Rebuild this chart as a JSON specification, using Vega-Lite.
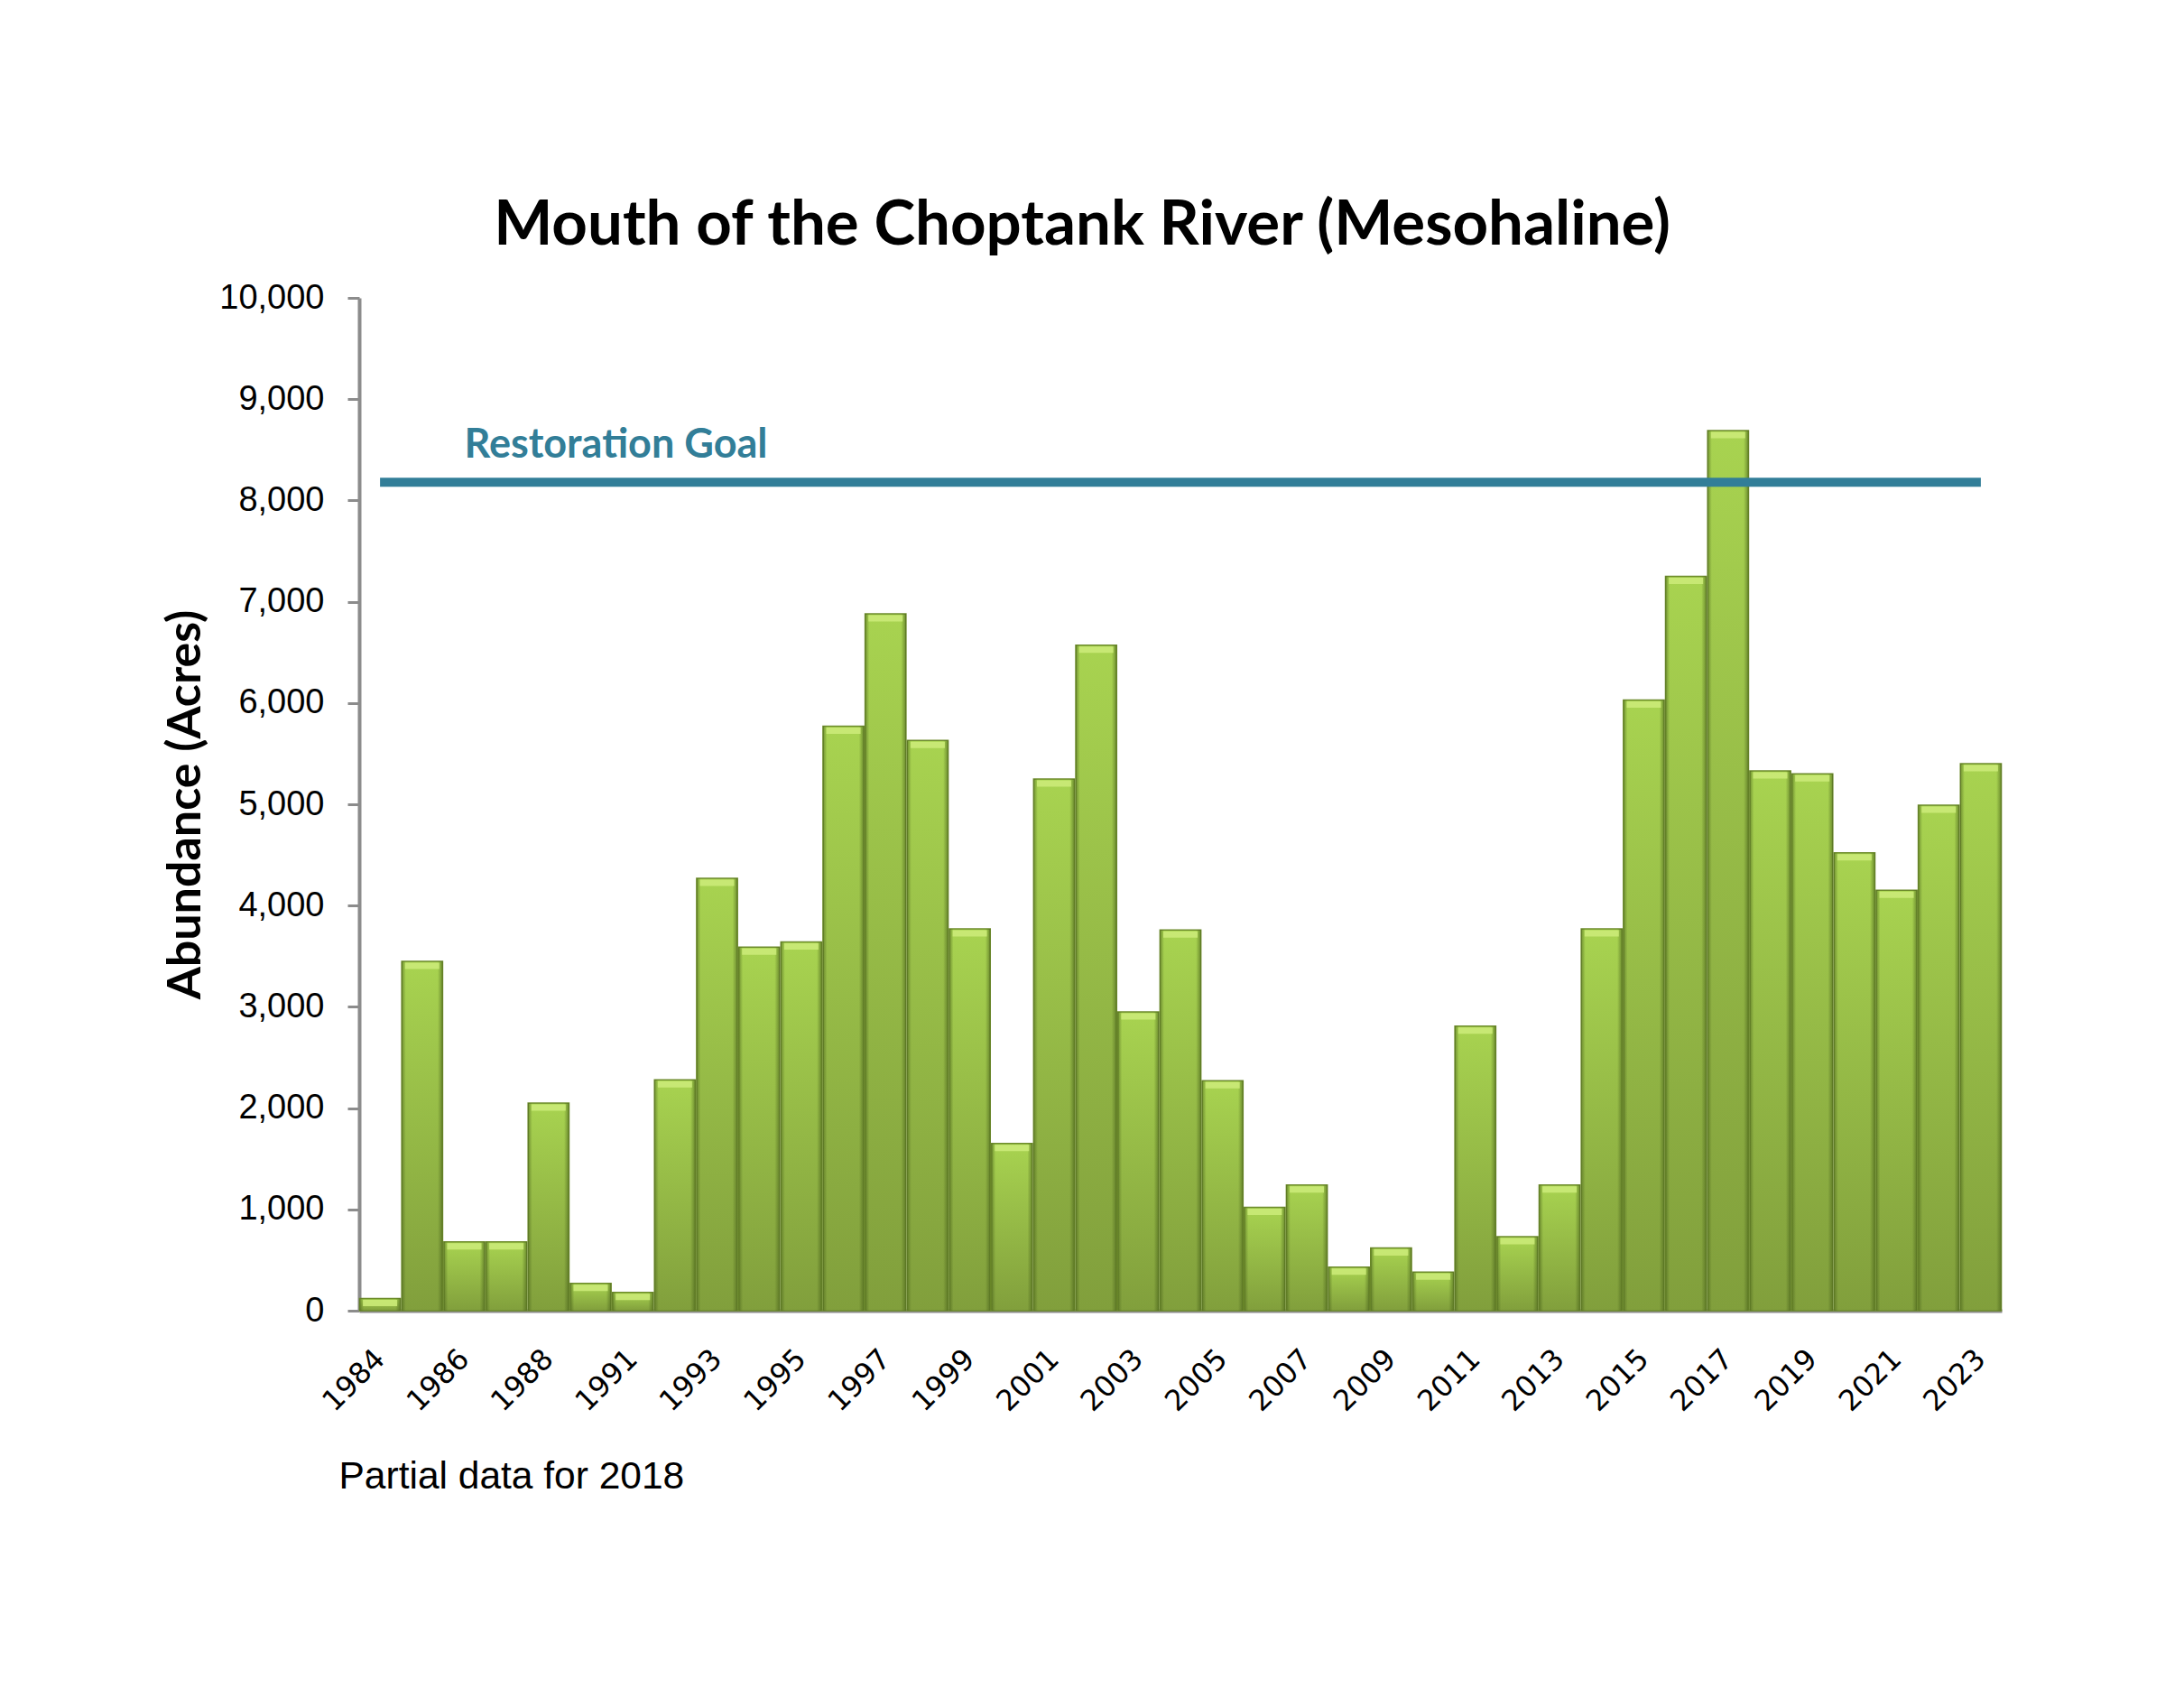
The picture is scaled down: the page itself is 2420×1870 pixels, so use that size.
{
  "$schema": "https://vega.github.io/schema/vega-lite/v6.json",
  "width": 1820,
  "height": 1122,
  "autosize": {"type": "none"},
  "padding": {"left": 398, "top": 330, "right": 202, "bottom": 418},
  "background": "white",
  "config": {"view": {"stroke": null}},
  "title": {
    "text": "Mouth of the Choptank River (Mesohaline)",
    "font": "Lato",
    "fontSize": 69,
    "fontWeight": "bold",
    "color": "black",
    "anchor": "middle",
    "frame": "bounds",
    "offset": 26
  },
  "data": {
    "values": [
      {"year": 1984, "acres": 120},
      {"year": 1985, "acres": 3450},
      {"year": 1986, "acres": 680},
      {"year": 1987, "acres": 680},
      {"year": 1988, "acres": 2050},
      {"year": 1989, "acres": 270},
      {"year": 1991, "acres": 180},
      {"year": 1992, "acres": 2280},
      {"year": 1993, "acres": 4270},
      {"year": 1994, "acres": 3590},
      {"year": 1995, "acres": 3640},
      {"year": 1996, "acres": 5770},
      {"year": 1997, "acres": 6880},
      {"year": 1998, "acres": 5630},
      {"year": 1999, "acres": 3770},
      {"year": 2000, "acres": 1650},
      {"year": 2001, "acres": 5250},
      {"year": 2002, "acres": 6570},
      {"year": 2003, "acres": 2950},
      {"year": 2004, "acres": 3760},
      {"year": 2005, "acres": 2270},
      {"year": 2006, "acres": 1020},
      {"year": 2007, "acres": 1240},
      {"year": 2008, "acres": 430},
      {"year": 2009, "acres": 620},
      {"year": 2010, "acres": 380},
      {"year": 2011, "acres": 2810},
      {"year": 2012, "acres": 730},
      {"year": 2013, "acres": 1240},
      {"year": 2014, "acres": 3770},
      {"year": 2015, "acres": 6030},
      {"year": 2016, "acres": 7250},
      {"year": 2017, "acres": 8690},
      {"year": 2018, "acres": 5330},
      {"year": 2019, "acres": 5300},
      {"year": 2020, "acres": 4520},
      {"year": 2021, "acres": 4150},
      {"year": 2022, "acres": 4990},
      {"year": 2023, "acres": 5400}
    ]
  },
  "encoding": {
    "x": {
      "field": "year",
      "type": "ordinal",
      "scale": {"paddingInner": 0.03, "paddingOuter": 0.01},
      "axis": {
        "values": [1984, 1986, 1988, 1991, 1993, 1995, 1997, 1999, 2001, 2003, 2005, 2007, 2009, 2011, 2013, 2015, 2017, 2019, 2021, 2023],
        "labelAngle": -45,
        "labelAlign": "right",
        "labelBaseline": "middle",
        "labelFont": "DejaVu Sans",
        "labelFontSize": 32,
        "labelColor": "black",
        "labelPadding": 48,
        "ticks": false,
        "domainColor": "#8C8C8C",
        "domainWidth": 4,
        "title": "Partial data for 2018",
        "titleFont": "Liberation Sans",
        "titleFontSize": 42.5,
        "titleFontWeight": "normal",
        "titleColor": "black",
        "titleAnchor": "start",
        "titleAlign": "left",
        "titleBaseline": "alphabetic",
        "titleX": -23,
        "titleY": 196
      }
    }
  },
  "layer": [
    {
      "mark": {
        "type": "bar",
        "stroke": "#6E8C2C",
        "strokeWidth": 1.5,
        "color": {
          "gradient": "linear",
          "x1": 0, "y1": 0, "x2": 0, "y2": 1,
          "stops": [
            {"offset": 0, "color": "#A8D350"},
            {"offset": 1, "color": "#819F3C"}
          ]
        }
      },
      "encoding": {
        "y": {
          "field": "acres",
          "type": "quantitative",
          "scale": {"domain": [0, 10000], "nice": false},
          "axis": {
            "values": [0, 1000, 2000, 3000, 4000, 5000, 6000, 7000, 8000, 9000, 10000],
            "format": ",.0f",
            "grid": false,
            "domainColor": "#8C8C8C",
            "domainWidth": 4,
            "tickColor": "#8C8C8C",
            "tickWidth": 3,
            "tickSize": 13,
            "labelFont": "Liberation Sans",
            "labelFontSize": 38,
            "labelColor": "black",
            "labelPadding": 26,
            "title": "Abundance (Acres)",
            "titleFont": "Lato",
            "titleFontSize": 52,
            "titleFontWeight": "bold",
            "titleColor": "black",
            "titlePadding": 10
          }
        }
      }
    },
    {
      "mark": {
        "type": "bar",
        "color": {
          "gradient": "linear",
          "x1": 0, "y1": 0, "x2": 1, "y2": 0,
          "stops": [
            {"offset": 0, "color": "rgba(70,95,25,0.55)"},
            {"offset": 0.1, "color": "rgba(70,95,25,0)"},
            {"offset": 0.88, "color": "rgba(70,95,25,0)"},
            {"offset": 1, "color": "rgba(70,95,25,0.6)"}
          ]
        }
      },
      "encoding": {"y": {"field": "acres", "type": "quantitative"}}
    },
    {
      "mark": {"type": "tick", "color": "#CBEA78", "thickness": 7, "size": 38, "yOffset": 5, "opacity": 0.9},
      "encoding": {"y": {"field": "acres", "type": "quantitative"}}
    },
    {
      "mark": {"type": "line", "color": "#327E98", "strokeWidth": 10},
      "encoding": {"y": {"datum": 8180, "type": "quantitative"}}
    },
    {
      "data": {"values": [{"year": 1986, "label": "Restoration Goal"}]},
      "mark": {"type": "text", "align": "left", "baseline": "alphabetic", "font": "Lato", "fontWeight": "bold", "fontSize": 45, "color": "#327E98", "dy": -27},
      "encoding": {
        "y": {"datum": 8180, "type": "quantitative"},
        "text": {"field": "label"}
      }
    }
  ]
}
